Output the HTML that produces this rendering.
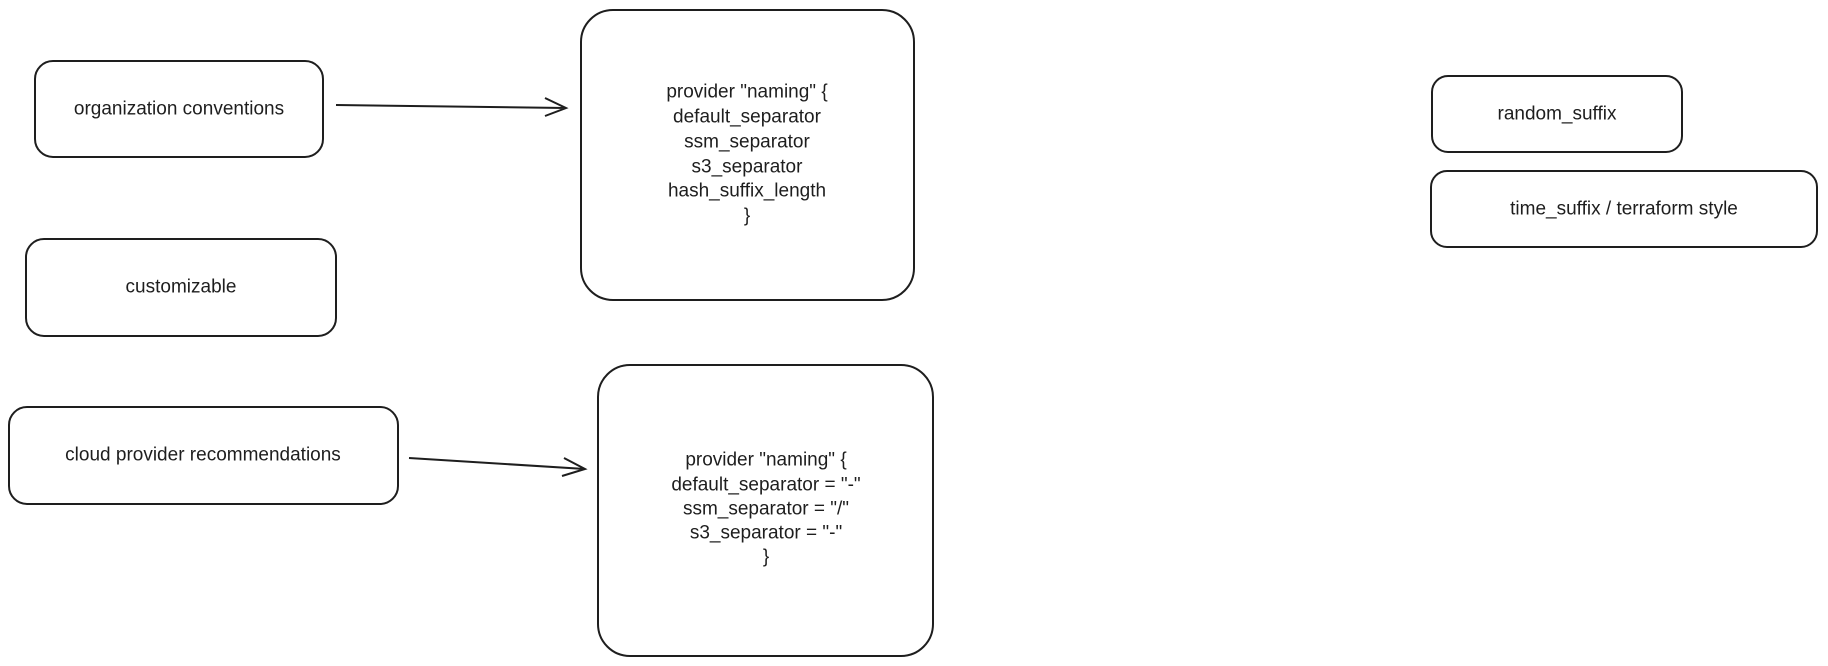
<!DOCTYPE html>
<html><head><meta charset="utf-8"><style>
html,body{margin:0;padding:0;background:#fff;width:1828px;height:666px;overflow:hidden}
svg text{font-family:"Liberation Sans",sans-serif;font-size:19px;fill:#1e1e1e;text-anchor:middle;dominant-baseline:central}
.b{fill:none;stroke:#1e1e1e;stroke-width:2}
</style></head><body>
<svg width="1828" height="666" viewBox="0 0 1828 666">
<g>
<rect class="b" x="35" y="61" width="288" height="96" rx="18"/>
<text x="179" y="109">organization conventions</text></g>
<g>
<rect class="b" x="26" y="239" width="310" height="97" rx="18"/>
<text x="181" y="287">customizable</text></g>
<g>
<rect class="b" x="9" y="407" width="389" height="97" rx="18"/>
<text x="203" y="455">cloud provider recommendations</text></g>
<g>
<rect class="b" x="581" y="10" width="333" height="290" rx="32"/>
<text x="747" y="92">provider "naming" {</text>
<text x="747" y="117">default_separator</text>
<text x="747" y="142">ssm_separator</text>
<text x="747" y="167">s3_separator</text>
<text x="747" y="191">hash_suffix_length</text>
<text x="747" y="216">}</text></g>
<g>
<rect class="b" x="598" y="365" width="335" height="291" rx="32"/>
<text x="766" y="460">provider "naming" {</text>
<text x="766" y="485">default_separator = "-"</text>
<text x="766" y="509">ssm_separator = "/"</text>
<text x="766" y="533">s3_separator = "-"</text>
<text x="766" y="557">}</text></g>
<g>
<rect class="b" x="1432" y="76" width="250" height="76" rx="16"/>
<text x="1557" y="114">random_suffix</text></g>
<g>
<rect class="b" x="1431" y="171" width="386" height="76" rx="16"/>
<text x="1624" y="209">time_suffix / terraform style</text></g>
<g>
<path class="b" d="M336 105 L566 108 M545 98 L566 108 L545 116"/></g>
<g>
<path class="b" d="M409 458 L585 469 M564 458 L585 469 L562 476"/></g>
</svg>
</body></html>
